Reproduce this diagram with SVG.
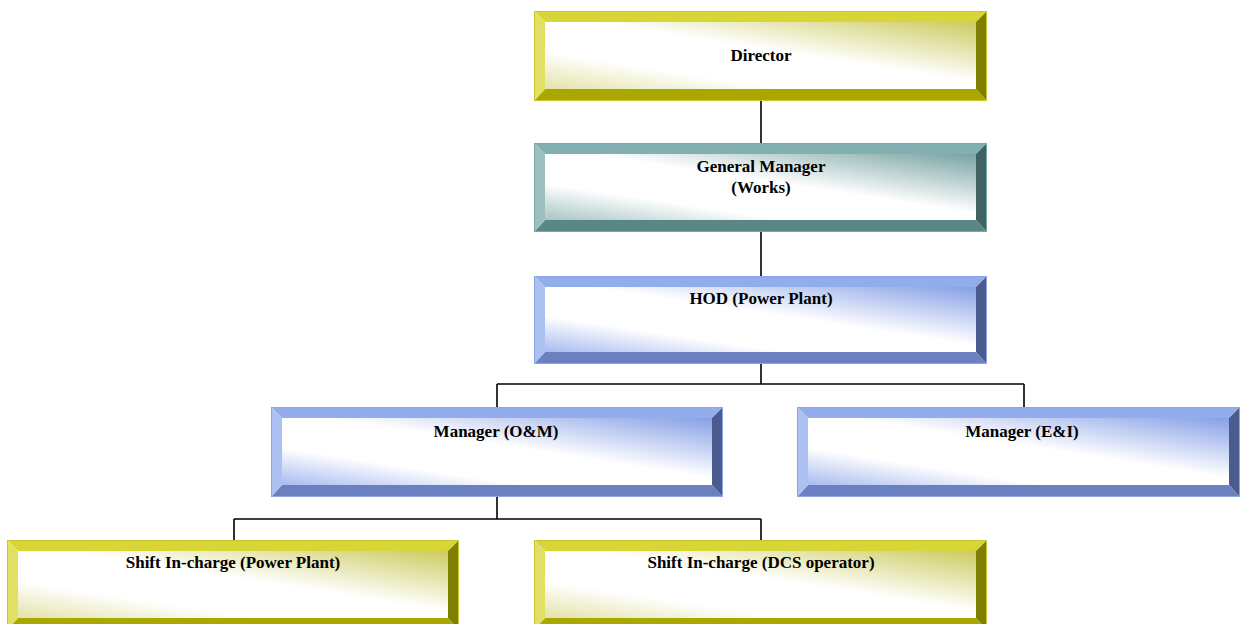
<svg xmlns="http://www.w3.org/2000/svg" width="1241" height="624" viewBox="0 0 1241 624">
<defs>
<linearGradient id="gY" x1="1" y1="0" x2="0" y2="1"><stop offset="0" stop-color="#cccb60"/><stop offset="0.45" stop-color="#ffffff"/><stop offset="0.72" stop-color="#ffffff"/><stop offset="1" stop-color="#e4e3a8"/></linearGradient>
<linearGradient id="gT" x1="1" y1="0" x2="0" y2="1"><stop offset="0" stop-color="#78a2a2"/><stop offset="0.45" stop-color="#ffffff"/><stop offset="0.72" stop-color="#ffffff"/><stop offset="1" stop-color="#a9c4c4"/></linearGradient>
<linearGradient id="gB" x1="1" y1="0" x2="0" y2="1"><stop offset="0" stop-color="#86a0e6"/><stop offset="0.45" stop-color="#ffffff"/><stop offset="0.72" stop-color="#ffffff"/><stop offset="1" stop-color="#a8bbef"/></linearGradient>
</defs>
<style>
.y .t{fill:#d8d636}.y .l{fill:#e2e064}.y .r{fill:#808000}.y .b{fill:#a8a800}.y .i{fill:url(#gY)}.y .o{stroke:#c8c630}
.tl .t{fill:#82afaf}.tl .l{fill:#9cc0c0}.tl .r{fill:#3f6262}.tl .b{fill:#5a8686}.tl .i{fill:url(#gT)}.tl .o{stroke:#7aa8a8}
.bl .t{fill:#93adec}.bl .l{fill:#acc0f2}.bl .r{fill:#4a5c8e}.bl .b{fill:#6a80c0}.bl .i{fill:url(#gB)}.bl .o{stroke:#8aa4e6}
.o{fill:none;stroke-width:1}
text{font-family:"Liberation Serif","Times New Roman",serif;font-weight:bold;font-size:17px;text-anchor:middle;fill:#000}
.c{stroke:#000;stroke-width:1.6;fill:none}
</style>
<g id="connectors">
<path class="c" d="M761,101V143M761,232V276M761,364V384M497,384H1024M497,384V407M1024,384V407M497,497V519M234,519H761M234,519V540M761,519V540"/>
</g>
<g id="director" class="y">
<polygon class="t" points="534,11 987,11 976,22 545,22"/>
<polygon class="r" points="987,11 987,101 976,89 976,22"/>
<polygon class="b" points="534,101 987,101 976,89 545,89"/>
<polygon class="l" points="534,11 534,101 545,89 545,22"/>
<rect class="i" x="545" y="22" width="431" height="67"/>
<rect class="o" x="534.5" y="11.5" width="452" height="89"/>
<text x="761" y="61">Director</text>
</g>
<g id="gm" class="tl">
<polygon class="t" points="534,143 987,143 976,154 545,154"/>
<polygon class="r" points="987,143 987,232 976,220 976,154"/>
<polygon class="b" points="534,232 987,232 976,220 545,220"/>
<polygon class="l" points="534,143 534,232 545,220 545,154"/>
<rect class="i" x="545" y="154" width="431" height="66"/>
<rect class="o" x="534.5" y="143.5" width="452" height="88"/>
<text x="761" y="172">General Manager</text>
<text x="761" y="193">(Works)</text>
</g>
<g id="hod" class="bl">
<polygon class="t" points="534,276 987,276 976,287 545,287"/>
<polygon class="r" points="987,276 987,364 976,352 976,287"/>
<polygon class="b" points="534,364 987,364 976,352 545,352"/>
<polygon class="l" points="534,276 534,364 545,352 545,287"/>
<rect class="i" x="545" y="287" width="431" height="65"/>
<rect class="o" x="534.5" y="276.5" width="452" height="87"/>
<text x="761" y="304">HOD (Power Plant)</text>
</g>
<g id="mgr-om" class="bl">
<polygon class="t" points="271,407 723,407 712,418 282,418"/>
<polygon class="r" points="723,407 723,497 712,485 712,418"/>
<polygon class="b" points="271,497 723,497 712,485 282,485"/>
<polygon class="l" points="271,407 271,497 282,485 282,418"/>
<rect class="i" x="282" y="418" width="430" height="67"/>
<rect class="o" x="271.5" y="407.5" width="451" height="89"/>
<text x="496" y="437">Manager (O&amp;M)</text>
</g>
<g id="mgr-ei" class="bl">
<polygon class="t" points="797,407 1240,407 1229,418 808,418"/>
<polygon class="r" points="1240,407 1240,497 1229,485 1229,418"/>
<polygon class="b" points="797,497 1240,497 1229,485 808,485"/>
<polygon class="l" points="797,407 797,497 808,485 808,418"/>
<rect class="i" x="808" y="418" width="421" height="67"/>
<rect class="o" x="797.5" y="407.5" width="442" height="89"/>
<text x="1022" y="437">Manager (E&amp;I)</text>
</g>
<g id="shift-pp" class="y">
<polygon class="t" points="7,540 459,540 448,551 18,551"/>
<polygon class="r" points="459,540 459,630 448,618 448,551"/>
<polygon class="b" points="7,630 459,630 448,618 18,618"/>
<polygon class="l" points="7,540 7,630 18,618 18,551"/>
<rect class="i" x="18" y="551" width="430" height="67"/>
<rect class="o" x="7.5" y="540.5" width="451" height="89"/>
<text x="233" y="568">Shift In-charge (Power Plant)</text>
</g>
<g id="shift-dcs" class="y">
<polygon class="t" points="534,540 987,540 976,551 545,551"/>
<polygon class="r" points="987,540 987,630 976,618 976,551"/>
<polygon class="b" points="534,630 987,630 976,618 545,618"/>
<polygon class="l" points="534,540 534,630 545,618 545,551"/>
<rect class="i" x="545" y="551" width="431" height="67"/>
<rect class="o" x="534.5" y="540.5" width="452" height="89"/>
<text x="761" y="568">Shift In-charge (DCS operator)</text>
</g>
</svg>
